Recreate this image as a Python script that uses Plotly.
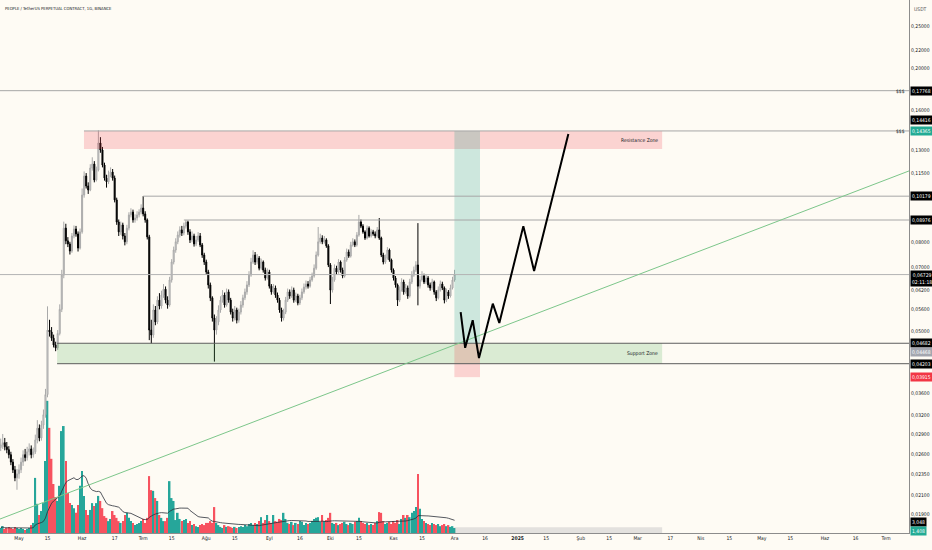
import math
import pandas as pd
import plotly.graph_objects as go

# ---- daily candles (PEOPLE/USDT perp, 1D) ----
first_open = 0.0270
closes = [
    0.0274, 0.0277, 0.0271, 0.0267, 0.0260, 0.0250, 0.0240, 0.0230, 0.0235, 0.0240,
    0.0250, 0.0260, 0.0256, 0.0264, 0.0268, 0.0260, 0.0264, 0.0281, 0.0299, 0.0284,
    0.0304, 0.0321, 0.0357, 0.0502, 0.0497, 0.0481, 0.0464, 0.0457, 0.0493, 0.0560,
    0.0671, 0.0860, 0.0804, 0.0791, 0.0762, 0.0825, 0.0856, 0.0834, 0.0774, 0.0843,
    0.1024, 0.1132, 0.1074, 0.1052, 0.1181, 0.1206, 0.1109, 0.1169, 0.1348, 0.1299,
    0.1200, 0.1120, 0.1098, 0.1138, 0.1156, 0.1120, 0.0998, 0.0888, 0.0843, 0.0874,
    0.0825, 0.0800, 0.0860, 0.0922, 0.0936, 0.0898, 0.0907, 0.0922, 0.0936, 0.0956,
    0.0927, 0.0898, 0.0821, 0.0502, 0.0489, 0.0558, 0.0524, 0.0588, 0.0570, 0.0604,
    0.0623, 0.0588, 0.0573, 0.0654, 0.0719, 0.0766, 0.0800, 0.0829, 0.0852, 0.0838,
    0.0869, 0.0888, 0.0843, 0.0808, 0.0825, 0.0791, 0.0808, 0.0825, 0.0787, 0.0746,
    0.0719, 0.0682, 0.0637, 0.0595, 0.0535, 0.0502, 0.0524, 0.0558, 0.0588, 0.0604,
    0.0573, 0.0614, 0.0588, 0.0552, 0.0535, 0.0558, 0.0529, 0.0552, 0.0573, 0.0595,
    0.0614, 0.0637, 0.0671, 0.0719, 0.0746, 0.0719, 0.0734, 0.0696, 0.0719, 0.0689,
    0.0661, 0.0682, 0.0633, 0.0614, 0.0627, 0.0604, 0.0588, 0.0558, 0.0535, 0.0552,
    0.0588, 0.0614, 0.0601, 0.0620, 0.0588, 0.0601, 0.0579, 0.0595, 0.0614, 0.0630,
    0.0640, 0.0633, 0.0654, 0.0668, 0.0696, 0.0746, 0.0800, 0.0816, 0.0800, 0.0808,
    0.0783, 0.0708, 0.0620, 0.0654, 0.0696, 0.0682, 0.0719, 0.0689, 0.0668, 0.0727,
    0.0758, 0.0742, 0.0787, 0.0800, 0.0787, 0.0829, 0.0888, 0.0869, 0.0843, 0.0816,
    0.0860, 0.0825, 0.0843, 0.0834, 0.0825, 0.0852, 0.0816, 0.0746, 0.0719, 0.0734,
    0.0766, 0.0727, 0.0689, 0.0661, 0.0637, 0.0588, 0.0620, 0.0647, 0.0614, 0.0627,
    0.0601, 0.0647, 0.0671, 0.0689, 0.0708, 0.0633, 0.0654, 0.0668, 0.0647, 0.0661,
    0.0637, 0.0627, 0.0647, 0.0614, 0.0595, 0.0620, 0.0640, 0.0627, 0.0588, 0.0614,
    0.0601, 0.0627, 0.0654, 0.06729,
]
highs = [
    0.0283, 0.0290, 0.0284, 0.0278, 0.0272, 0.0264, 0.0254, 0.0245, 0.0241, 0.0247,
    0.0256, 0.0266, 0.0268, 0.0271, 0.0276, 0.0273, 0.0270, 0.0289, 0.0312, 0.0305,
    0.0311, 0.0330, 0.0368, 0.0569, 0.0530, 0.0510, 0.0490, 0.0472, 0.0502, 0.0575,
    0.0690, 0.0890, 0.0880, 0.0820, 0.0800, 0.0838, 0.0872, 0.0870, 0.0845, 0.0858,
    0.1060, 0.1160, 0.1150, 0.1095, 0.1205, 0.1250, 0.1225, 0.1190, 0.1442, 0.1390,
    0.1320, 0.1215, 0.1140, 0.1165, 0.1185, 0.1175, 0.1135, 0.1010, 0.0900, 0.0890,
    0.0885, 0.0838, 0.0875, 0.0935, 0.0955, 0.0948, 0.0925, 0.0940, 0.0950, 0.0975,
    0.1018, 0.0940, 0.0905, 0.0830, 0.0530, 0.0575, 0.0570, 0.0600, 0.0610, 0.0618,
    0.0640, 0.0632, 0.0600, 0.0665, 0.0730, 0.0780, 0.0815, 0.0845, 0.0868, 0.0870,
    0.0885, 0.0898, 0.0895, 0.0855, 0.0845, 0.0835, 0.0825, 0.0842, 0.0838, 0.0795,
    0.0755, 0.0728, 0.0690, 0.0645, 0.0600, 0.0545, 0.0540, 0.0572, 0.0600, 0.0620,
    0.0612, 0.0625, 0.0622, 0.0595, 0.0562, 0.0570, 0.0565, 0.0562, 0.0585, 0.0605,
    0.0625, 0.0650, 0.0685, 0.0735, 0.0765, 0.0758, 0.0750, 0.0742, 0.0732, 0.0725,
    0.0698, 0.0695, 0.0690, 0.0640, 0.0640, 0.0635, 0.0612, 0.0595, 0.0565, 0.0562,
    0.0598, 0.0625, 0.0622, 0.0632, 0.0628, 0.0612, 0.0608, 0.0605, 0.0625, 0.0642,
    0.0652, 0.0650, 0.0665, 0.0680, 0.0710, 0.0760, 0.0865, 0.0835, 0.0828, 0.0825,
    0.0815, 0.0790, 0.0715, 0.0665, 0.0710, 0.0705, 0.0730, 0.0725, 0.0698, 0.0738,
    0.0772, 0.0768, 0.0800, 0.0815, 0.0810, 0.0842, 0.0922, 0.0900, 0.0878, 0.0850,
    0.0872, 0.0868, 0.0855, 0.0852, 0.0845, 0.0865, 0.0907, 0.0822, 0.0755, 0.0748,
    0.0778, 0.0772, 0.0732, 0.0695, 0.0668, 0.0642, 0.0632, 0.0660, 0.0655, 0.0640,
    0.0635, 0.0658, 0.0685, 0.0702, 0.0722, 0.0883, 0.0668, 0.0685, 0.0676, 0.0675,
    0.0668, 0.0645, 0.0658, 0.0652, 0.0620, 0.0632, 0.0652, 0.0648, 0.0632, 0.0625,
    0.0620, 0.0638, 0.0665, 0.0690,
]
lows = [
    0.0265, 0.0268, 0.0266, 0.0262, 0.0255, 0.0246, 0.0236, 0.0226, 0.0216, 0.0229,
    0.0236, 0.0245, 0.0251, 0.0252, 0.0259, 0.0255, 0.0256, 0.0261, 0.0276, 0.0279,
    0.0280, 0.0298, 0.0316, 0.0352, 0.0485, 0.0474, 0.0458, 0.0449, 0.0452, 0.0488,
    0.0552, 0.0660, 0.0790, 0.0778, 0.0748, 0.0755, 0.0815, 0.0822, 0.0760, 0.0768,
    0.0835, 0.1010, 0.1060, 0.1030, 0.1045, 0.1165, 0.1095, 0.1100, 0.1160, 0.1280,
    0.1185, 0.1105, 0.1065, 0.1085, 0.1125, 0.1105, 0.0985, 0.0875, 0.0825, 0.0830,
    0.0810, 0.0785, 0.0790, 0.0850, 0.0910, 0.0885, 0.0885, 0.0895, 0.0910, 0.0925,
    0.0915, 0.0885, 0.0810, 0.0476, 0.0468, 0.0482, 0.0515, 0.0518, 0.0560, 0.0562,
    0.0595, 0.0578, 0.0562, 0.0568, 0.0645, 0.0710, 0.0755, 0.0790, 0.0818, 0.0825,
    0.0828, 0.0858, 0.0830, 0.0795, 0.0798, 0.0780, 0.0782, 0.0800, 0.0778, 0.0735,
    0.0708, 0.0672, 0.0625, 0.0585, 0.0525, 0.0425, 0.0490, 0.0515, 0.0550, 0.0580,
    0.0565, 0.0568, 0.0580, 0.0545, 0.0525, 0.0528, 0.0520, 0.0522, 0.0545, 0.0565,
    0.0588, 0.0605, 0.0630, 0.0665, 0.0712, 0.0708, 0.0710, 0.0688, 0.0690, 0.0680,
    0.0652, 0.0655, 0.0625, 0.0605, 0.0608, 0.0595, 0.0580, 0.0550, 0.0525, 0.0528,
    0.0546, 0.0582, 0.0592, 0.0595, 0.0580, 0.0582, 0.0572, 0.0573, 0.0588, 0.0608,
    0.0622, 0.0625, 0.0628, 0.0648, 0.0662, 0.0690, 0.0740, 0.0792, 0.0790, 0.0792,
    0.0775, 0.0700, 0.0576, 0.0612, 0.0648, 0.0672, 0.0676, 0.0680, 0.0660, 0.0662,
    0.0720, 0.0735, 0.0736, 0.0780, 0.0778, 0.0780, 0.0822, 0.0860, 0.0835, 0.0808,
    0.0810, 0.0818, 0.0818, 0.0826, 0.0815, 0.0818, 0.0808, 0.0738, 0.0710, 0.0712,
    0.0728, 0.0720, 0.0680, 0.0652, 0.0628, 0.0570, 0.0582, 0.0615, 0.0605, 0.0608,
    0.0592, 0.0596, 0.0640, 0.0665, 0.0682, 0.0572, 0.0625, 0.0648, 0.0640, 0.0640,
    0.0628, 0.0618, 0.0620, 0.0605, 0.0585, 0.0590, 0.0615, 0.0620, 0.0578, 0.0582,
    0.0592, 0.0596, 0.0622, 0.0648,
]
# volume in billions of PEOPLE
volumes = [
    1.4, 1.9, 1.1, 1.4, 1.7, 1.4, 1.1, 1.7, 1.4, 1.1,
    1.4, 1.1, 0.8, 1.1, 1.4, 2.2, 2.8, 15.3, 8.1, 5.0,
    6.1, 8.3, 20.0, 36.7, 29.2, 20.6, 13.6, 10.0, 8.9, 13.1,
    28.3, 29.7, 20.0, 11.1, 8.3, 7.8, 6.9, 5.6, 7.8, 13.1,
    17.2, 10.3, 6.4, 5.0, 6.4, 8.3, 7.5, 8.3, 10.3, 8.9,
    6.9, 4.7, 4.2, 3.3, 3.9, 6.1, 5.0, 4.2, 3.3, 2.8,
    3.3, 5.0, 5.6, 4.2, 3.3, 2.8, 2.2, 2.5, 2.8, 3.3,
    3.9, 2.8, 4.2, 15.8, 11.9, 11.7, 9.7, 8.9, 5.0, 4.2,
    3.3, 3.3, 4.2, 14.4, 9.7, 8.9, 3.6, 5.6, 3.9, 3.3,
    3.6, 3.9, 2.8, 3.3, 2.2, 2.5, 1.9, 1.7, 2.2, 2.5,
    2.2, 2.8, 2.8, 3.3, 2.8, 7.2, 2.8, 2.2, 1.7, 1.4,
    2.2, 1.7, 1.9, 1.7, 1.4, 1.7, 1.4, 1.7, 1.9, 1.7,
    2.2, 1.9, 2.5, 2.8, 2.2, 2.8, 2.5, 3.3, 4.4, 2.8,
    3.6, 5.0, 3.3, 2.8, 5.0, 3.3, 3.1, 3.9, 3.6, 5.6,
    3.9, 2.8, 2.5, 3.1, 2.2, 2.8, 2.5, 3.3, 3.1, 2.2,
    2.8, 2.5, 2.8, 3.3, 3.9, 4.2, 4.4, 3.1, 5.0, 3.3,
    3.6, 4.2, 5.6, 2.8, 2.5, 2.8, 2.2, 2.5, 2.8, 3.1,
    2.5, 2.2, 2.8, 2.5, 3.1, 3.3, 4.2, 3.3, 2.8, 2.5,
    2.8, 2.2, 2.5, 2.2, 2.8, 3.3, 5.8, 5.6, 3.3, 2.5,
    2.8, 3.1, 2.5, 3.3, 2.8, 3.6, 2.5, 3.9, 5.0, 4.2,
    5.0, 4.4, 5.6, 6.1, 7.2, 16.4, 6.7, 3.9, 3.3, 2.8,
    2.5, 2.2, 2.8, 2.5, 2.2, 2.5, 1.9, 2.2, 2.5, 1.9,
    2.2, 1.7, 1.9, 1.4,
]

# ---- drawings ----
resistance_low, resistance_high = 0.1305, 0.14365
support_low, support_high = 0.04203, 0.04682
stop_level = 0.03915
target_level = 0.14365
top_level = 0.17768
ray_levels = [0.10179, 0.08976]
ray_starts = ["2024-07-01", "2024-07-21"]
last_price = 0.06729
trend_prices = [0.01851, 0.1163]
path_dates = ["2024-12-04 00:00", "2024-12-06 05:00", "2024-12-09 22:00", "2024-12-13 00:00",
              "2024-12-19 19:00", "2024-12-23 00:00", "2025-01-03 19:00", "2025-01-09 02:00",
              "2025-01-25 22:00"]
path_prices = [0.0552, 0.0457, 0.0529, 0.0433, 0.0577, 0.0521, 0.0869, 0.0686, 0.1413]

price_ticks = [0.25, 0.22, 0.20, 0.16, 0.13, 0.115, 0.08, 0.07, 0.062, 0.056, 0.05,
               0.036, 0.032, 0.029, 0.026, 0.0235, 0.021, 0.019]
date_ticks = ["2024-05-01", "2024-05-15", "2024-06-01", "2024-06-17", "2024-07-01", "2024-07-15",
              "2024-08-01", "2024-08-15", "2024-09-01", "2024-09-16", "2024-10-01", "2024-10-15",
              "2024-11-01", "2024-11-15", "2024-12-01", "2024-12-16", "2025-01-01", "2025-01-15",
              "2025-02-01", "2025-02-15", "2025-03-01", "2025-03-17", "2025-04-01", "2025-04-15",
              "2025-05-01", "2025-05-15", "2025-06-01", "2025-06-16", "2025-07-01"]
date_labels = ["May", "15", "Haz", "17", "Tem", "15", "Ağu", "15", "Eyl", "16", "Eki", "15",
               "Kas", "15", "Ara", "16", "<b>2025</b>", "15", "Şub", "15", "Mar", "17", "Nis", "15",
               "May", "15", "Haz", "16", "Tem"]

X_LEFT, X_RIGHT = "2024-04-21 15:45", "2025-07-12 07:00"
ZONE_END = "2025-03-13"
BG = "#fefbf4"
FONT = "Liberation Sans Narrow, Arial Narrow, DejaVu Sans Condensed, sans-serif"
TXT = "#131722"

dates = pd.date_range("2024-04-22", periods=len(closes), freq="D")
opens = [first_open] + closes[:-1]
vol_colors = ["#26a69a" if c >= o else "#f7525f" for o, c in zip(opens, closes)]
vol_ma = pd.Series(volumes).rolling(20, min_periods=1).mean()

fig = go.Figure()


def box(x0, x1, y0, y1, color, yaxis="y2"):
    fig.add_trace(go.Scatter(x=[x0, x1, x1, x0, x0], y=[y0, y0, y1, y1, y0], mode="lines",
                             fill="toself", fillcolor=color, line=dict(width=0),
                             yaxis=yaxis, hoverinfo="skip"))


def hline(x0, x1, y, color="#a6a6a6", width=1):
    fig.add_trace(go.Scatter(x=[x0, x1], y=[y, y], mode="lines", line=dict(color=color, width=width),
                             yaxis="y2", hoverinfo="skip"))


# volume (linear axis y, hidden)
fig.add_trace(go.Bar(x=dates, y=volumes, marker_color=vol_colors, marker_line_width=0,
                     yaxis="y", hoverinfo="skip"))
fig.add_trace(go.Scatter(x=dates, y=vol_ma, mode="lines", line=dict(color="#2a2e39", width=0.8),
                         yaxis="y", hoverinfo="skip"))
box("2024-12-01", ZONE_END, 0, 1.6, "rgba(120,123,134,0.2)", yaxis="y")

# zones
box("2024-06-01 22:00", ZONE_END, resistance_low, resistance_high, "rgba(242,54,69,0.2)")
box("2024-05-19 17:00", ZONE_END, support_low, support_high, "rgba(76,175,80,0.2)")
box("2024-11-30 22:00", "2024-12-13 12:00", support_high, target_level, "rgba(8,153,129,0.2)")
box("2024-11-30 22:00", "2024-12-13 12:00", stop_level, support_high, "rgba(242,54,69,0.2)")

# horizontal levels
hline(X_LEFT, X_RIGHT, top_level)
hline("2024-06-01 22:00", X_RIGHT, resistance_high)
for lvl, start in zip(ray_levels, ray_starts):
    hline(start, X_RIGHT, lvl)
hline(X_LEFT, X_RIGHT, last_price, color="#b4b4b4")
hline("2024-05-19 17:00", X_RIGHT, support_high, color="#5d5d5d")
hline("2024-05-19 17:00", X_RIGHT, support_low, color="#5d5d5d")

# trend line
fig.add_trace(go.Scatter(x=[X_LEFT, X_RIGHT], y=trend_prices, mode="lines",
                         line=dict(color="#7cc68a", width=1), yaxis="y2", hoverinfo="skip"))

# candles
fig.add_trace(go.Candlestick(
    x=dates, open=opens, high=highs, low=lows, close=closes, yaxis="y2",
    increasing=dict(line=dict(color="#a9a9a9", width=1), fillcolor="#dcdcdc"),
    decreasing=dict(line=dict(color="#000000", width=1), fillcolor="#000000"),
    whiskerwidth=0, hoverinfo="skip"))

# projected path
fig.add_trace(go.Scatter(x=path_dates, y=path_prices, mode="lines",
                         line=dict(color="#000000", width=2), yaxis="y2", hoverinfo="skip"))

ann = []


def ylog(v):
    return math.log10(v)


# zone captions
ann.append(dict(x=ZONE_END, xref="x", xanchor="right", xshift=-2,
                y=ylog(math.sqrt(resistance_low * resistance_high)), yref="y2",
                text="Resistance Zone", showarrow=False, font=dict(size=5, color=TXT, family=FONT)))
ann.append(dict(x=ZONE_END, xref="x", xanchor="right", xshift=-2,
                y=ylog(math.sqrt(support_low * support_high)), yref="y2",
                text="Support Zone", showarrow=False, font=dict(size=5, color=TXT, family=FONT)))
for lvl in [top_level, target_level]:
    ann.append(dict(x=1, xref="paper", xanchor="right", xshift=-2, y=ylog(lvl), yref="y2",
                    text="$$$", showarrow=False, font=dict(size=5, color=TXT, family=FONT)))

# price scale labels
LBL = dict(size=5, color="white", family=FONT)
price_labels = [
    (top_level, "#000000", 0),
    (0.14416, "#000000", 10),
    (target_level, "#22ab94", 0),
    (ray_levels[0], "#000000", 0),
    (ray_levels[1], "#000000", 0),
    (support_high, "#000000", 0),
    (0.04468, "#a3a6af", 0),
    (support_low, "#000000", 0),
    (stop_level, "#f23645", 0),
]
for val, col, shift in price_labels:
    ann.append(dict(x=1, xref="paper", xanchor="left", xshift=1, y=ylog(val), yref="y2", yshift=shift,
                    text=f"{val:.5f}".replace(".", ","), showarrow=False, bgcolor=col, borderpad=1,
                    font=LBL))
ann.append(dict(x=1, xref="paper", xanchor="left", xshift=1, y=ylog(last_price), yref="y2",
                yanchor="top", yshift=5, text=f"{last_price:.5f}".replace(".", ",") + "<br>02:11:18",
                showarrow=False, bgcolor="#000000", borderpad=1, font=LBL))
ann.append(dict(x=1, xref="paper", xanchor="left", xshift=1, y=3.048, yref="y",
                text="3,048", showarrow=False, bgcolor="#000000", borderpad=1, font=LBL))
ann.append(dict(x=1, xref="paper", xanchor="left", xshift=1, y=volumes[-1], yref="y", yshift=-3,
                text="1,408", showarrow=False, bgcolor="#22ab94", borderpad=1, font=LBL))
ann.append(dict(x=1, xref="paper", xanchor="left", xshift=3, y=1, yref="paper", yanchor="top",
                yshift=-4, text="USDT", showarrow=False, font=dict(size=5, color="#555", family=FONT)))
ann.append(dict(x=0, xref="paper", xanchor="left", xshift=3, y=1, yref="paper", yanchor="top",
                yshift=-4, text="PEOPLE / TetherUS PERPETUAL CONTRACT, 1G, BINANCE", showarrow=False,
                font=dict(size=4.2, color=TXT, family=FONT)))

fig.update_layout(
    width=932, height=550,
    margin=dict(l=0, r=23, t=0, b=17),
    paper_bgcolor=BG, plot_bgcolor=BG,
    showlegend=False, bargap=0.2,
    font=dict(family=FONT, size=5, color=TXT),
    annotations=ann,
    xaxis=dict(type="date", range=[X_LEFT, X_RIGHT], tickvals=date_ticks, ticktext=date_labels,
               tickfont=dict(size=5, color=TXT), showgrid=False, zeroline=False, ticks="",
               showline=True, linecolor="#8c8c8c", linewidth=1, rangeslider=dict(visible=False)),
    yaxis=dict(range=[0, 148], visible=False, fixedrange=True),
    yaxis2=dict(type="log", overlaying="y", side="right",
                range=[math.log10(0.017193), math.log10(0.28679)],
                tickvals=price_ticks, ticktext=[f"{v:.5f}".replace(".", ",") for v in price_ticks],
                tickfont=dict(size=5, color=TXT), showgrid=False, zeroline=False, ticks="",
                showline=True, linecolor="#8c8c8c", linewidth=1),
)

# the page's default body margin would push the figure out of the 932x550 window
fig.write_html("out.html", config={"displayModeBar": False},
               post_script="document.body.style.margin='0';document.body.style.background='%s';" % BG)
